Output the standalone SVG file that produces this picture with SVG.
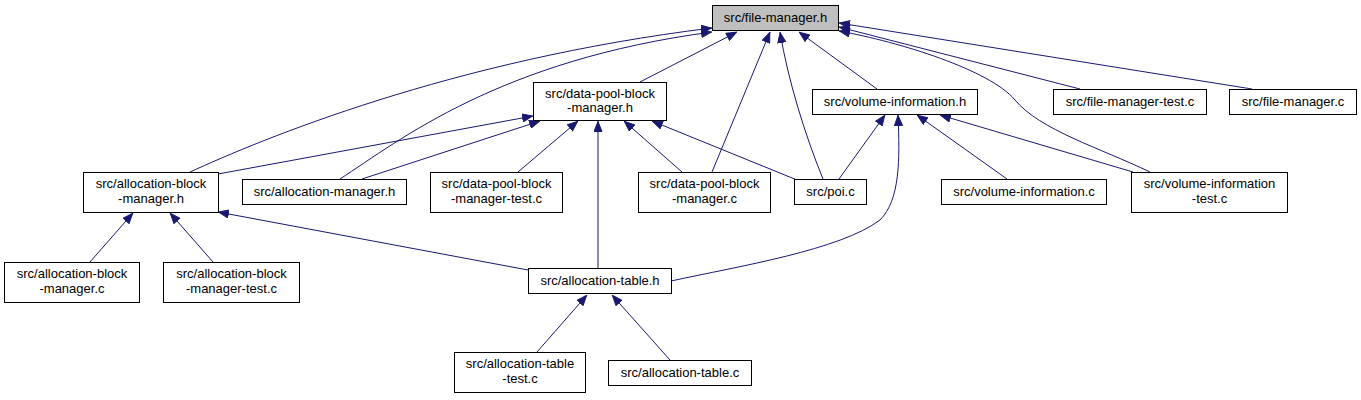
<svg xmlns="http://www.w3.org/2000/svg" width="1361" height="400" viewBox="0 0 1361 400">
<style>
.n rect{fill:#fff;stroke:#000;stroke-width:1}
.n text{font-family:"Liberation Sans",Arial,sans-serif;font-size:13px;text-anchor:middle;fill:#000}
#edges path{fill:none;stroke:#191970;stroke-width:1;marker-end:url(#ah)}
</style>
<defs>
<marker id="ah" viewBox="0 0 11 9" refX="11" refY="4.5" markerWidth="11" markerHeight="9" markerUnits="userSpaceOnUse" orient="auto">
<path d="M0.5,0.5 L10.5,4.5 L0.5,8.5 Z" fill="#191970" stroke="#191970" stroke-width="1"/>
</marker>
</defs>
<rect width="1361" height="400" fill="#fff"/>
<g id="edges">
<path d="M190,172 C260,140 450,60 712,28"/>
<path d="M340,179 C400,140 500,60 712,32"/>
<path d="M640,82 L737,32"/>
<path d="M712,172 L770,32"/>
<path d="M823,179 C805,135 788,80 780,32"/>
<path d="M877,89 L799,32"/>
<path d="M1080,89 L839,27"/>
<path d="M1252,89 L839,23"/>
<path d="M1150,172 C1100,148 1040,130 1015,100 C990,70 900,42 839,31"/>
<path d="M218,174 L533,116"/>
<path d="M362,179 L540,121"/>
<path d="M518,172 L578,121"/>
<path d="M598,268 L598,121"/>
<path d="M682,172 L624,121"/>
<path d="M802,182 L652,121"/>
<path d="M839,179 L885,115"/>
<path d="M671,281 C740,266 840,250 880,220 C900,200 900,160 898,115"/>
<path d="M1007,179 L917,115"/>
<path d="M1133,172 L940,115"/>
<path d="M90,262 L133,213"/>
<path d="M213,262 L170,213"/>
<path d="M528,270 L218,212"/>
<path d="M537,352 L587,295"/>
<path d="M670,360 L612,295"/>
</g>
<g id="fm_h" class="n"><rect x="712.5" y="5.5" width="126" height="25" style="fill:#bfbfbf"/><text x="775.5" y="22">src/file-manager.h</text></g>
<g id="dpbm_h" class="n"><rect x="533.5" y="82.5" width="133" height="38"/><text x="600" y="98">src/data-pool-block</text><text x="600" y="112">-manager.h</text></g>
<g id="vi_h" class="n"><rect x="812.5" y="89.5" width="165" height="25"/><text x="895" y="106">src/volume-information.h</text></g>
<g id="fmt_c" class="n"><rect x="1053.5" y="89.5" width="153" height="25"/><text x="1130" y="106">src/file-manager-test.c</text></g>
<g id="fm_c" class="n"><rect x="1229.5" y="89.5" width="127" height="25"/><text x="1293" y="106">src/file-manager.c</text></g>
<g id="abm_h" class="n"><rect x="83.5" y="172.5" width="135" height="40"/><text x="151" y="188">src/allocation-block</text><text x="151" y="203">-manager.h</text></g>
<g id="am_h" class="n"><rect x="242.5" y="179.5" width="164" height="25"/><text x="324.5" y="196">src/allocation-manager.h</text></g>
<g id="dpbmt_c" class="n"><rect x="430.5" y="172.5" width="132" height="40"/><text x="496.5" y="188">src/data-pool-block</text><text x="496.5" y="203">-manager-test.c</text></g>
<g id="dpbm_c" class="n"><rect x="638.5" y="172.5" width="132" height="40"/><text x="704.5" y="188">src/data-pool-block</text><text x="704.5" y="203">-manager.c</text></g>
<g id="poi_c" class="n"><rect x="794.5" y="179.5" width="72" height="25"/><text x="830.5" y="196">src/poi.c</text></g>
<g id="vi_c" class="n"><rect x="941.5" y="179.5" width="165" height="25"/><text x="1024" y="196">src/volume-information.c</text></g>
<g id="vit_c" class="n"><rect x="1131.5" y="172.5" width="156" height="40"/><text x="1209.5" y="188">src/volume-information</text><text x="1209.5" y="203">-test.c</text></g>
<g id="abm_c" class="n"><rect x="4.5" y="262.5" width="135" height="40"/><text x="72" y="278">src/allocation-block</text><text x="72" y="293">-manager.c</text></g>
<g id="abmt_c" class="n"><rect x="163.5" y="262.5" width="136" height="40"/><text x="231.5" y="278">src/allocation-block</text><text x="231.5" y="293">-manager-test.c</text></g>
<g id="at_h" class="n"><rect x="528.5" y="268.5" width="143" height="25"/><text x="600" y="285">src/allocation-table.h</text></g>
<g id="att_c" class="n"><rect x="454.5" y="352.5" width="131" height="40"/><text x="520" y="368">src/allocation-table</text><text x="520" y="383">-test.c</text></g>
<g id="at_c" class="n"><rect x="608.5" y="360.5" width="143" height="25"/><text x="680" y="377">src/allocation-table.c</text></g>
</svg>
